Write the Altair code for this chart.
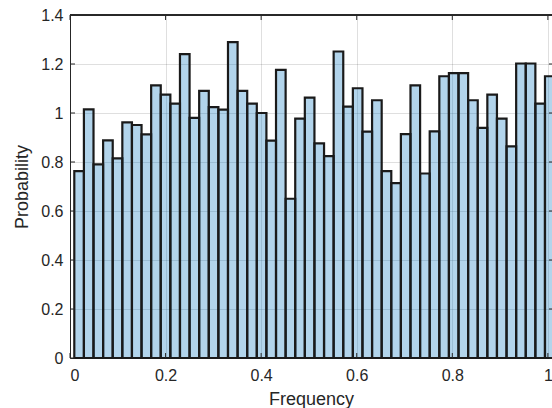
import altair as alt
import pandas as pd

# Histogram bar heights (probability density), 50 bins
probability = [0.763, 1.015, 0.790, 0.888, 0.815, 0.962, 0.951, 0.913, 1.113, 1.075,
               1.038, 1.240, 0.980, 1.090, 1.024, 1.014, 1.289, 1.090, 1.038, 1.000,
               0.887, 1.176, 0.650, 0.977, 1.063, 0.876, 0.824, 1.251, 1.026, 1.101,
               0.924, 1.052, 0.763, 0.714, 0.914, 1.113, 0.753, 0.925, 1.150, 1.163,
               1.163, 1.052, 0.939, 1.075, 0.977, 0.864, 1.202, 1.202, 1.038, 1.150]
bin_start = 0.009
bin_width = 0.0201

x_ticks = [0, 0.2, 0.4, 0.6, 0.8, 1.0]
y_ticks = [0, 0.2, 0.4, 0.6, 0.8, 1.0, 1.2, 1.4]

W, H = 482, 343
XMAX = 1.0086
DARK = "#262626"
FONT = "Liberation Sans"

df = pd.DataFrame({
    "lo": [bin_start + i * bin_width for i in range(len(probability))],
    "hi": [bin_start + (i + 1) * bin_width for i in range(len(probability))],
    "p": probability,
})
xt = pd.DataFrame({"t": x_ticks})
yt = pd.DataFrame({"t": y_ticks})

xscale = alt.Scale(domain=[0, XMAX], nice=False, zero=False)
yscale = alt.Scale(domain=[0, 1.4], nice=False)
xaxis = alt.Axis(values=x_ticks, format="~g", title="Frequency",
                 grid=True, ticks=False, labelPadding=9, titlePadding=7)
yaxis = alt.Axis(values=y_ticks, format="~g", title="Probability",
                 grid=True, ticks=False, labelPadding=7, titlePadding=9)

bars = alt.Chart(df).mark_bar(
    fill="#0072BD", fillOpacity=0.3, stroke="#1a1a1a", strokeWidth=2.2, clip=False
).encode(
    x=alt.X("lo:Q", scale=xscale, axis=xaxis),
    x2="hi:Q",
    y=alt.Y("p:Q", scale=yscale, axis=yaxis),
    y2=alt.datum(0),
)

bottom_ticks = alt.Chart(xt).mark_rule(color=DARK, strokeWidth=1).encode(
    x=alt.X("t:Q", scale=xscale, axis=xaxis), y=alt.value(H), y2=alt.value(H - 5))
top_ticks = alt.Chart(xt).mark_rule(color=DARK, strokeWidth=1).encode(
    x=alt.X("t:Q", scale=xscale, axis=xaxis), y=alt.value(0), y2=alt.value(5))
left_ticks = alt.Chart(yt).mark_rule(color=DARK, strokeWidth=1).encode(
    y=alt.Y("t:Q", scale=yscale, axis=yaxis), x=alt.value(0), x2=alt.value(5))
right_ticks = alt.Chart(yt).mark_rule(color=DARK, strokeWidth=1).encode(
    y=alt.Y("t:Q", scale=yscale, axis=yaxis), x=alt.value(W - 3), x2=alt.value(W + 2))
top_border = alt.Chart(xt).mark_rule(color=DARK, strokeWidth=1).encode(
    x=alt.value(0), x2=alt.value(W + 2), y=alt.value(0))

chart = alt.layer(
    bars, bottom_ticks, top_ticks, left_ticks, right_ticks, top_border
).properties(
    width=W, height=H,
    autosize=alt.AutoSizeParams(type="none"),
    padding={"left": 70, "top": 15, "right": 0, "bottom": 50},
    background="white",
).configure_view(
    stroke=None
).configure_axis(
    domainColor=DARK, domainWidth=1,
    gridColor=DARK, gridOpacity=0.15, gridWidth=1,
    labelFont=FONT, labelFontSize=16, labelColor=DARK,
    titleFont=FONT, titleFontSize=18, titleFontWeight="normal", titleColor=DARK,
)

chart.save("out.html", embed_options={"renderer": "svg", "actions": False})
